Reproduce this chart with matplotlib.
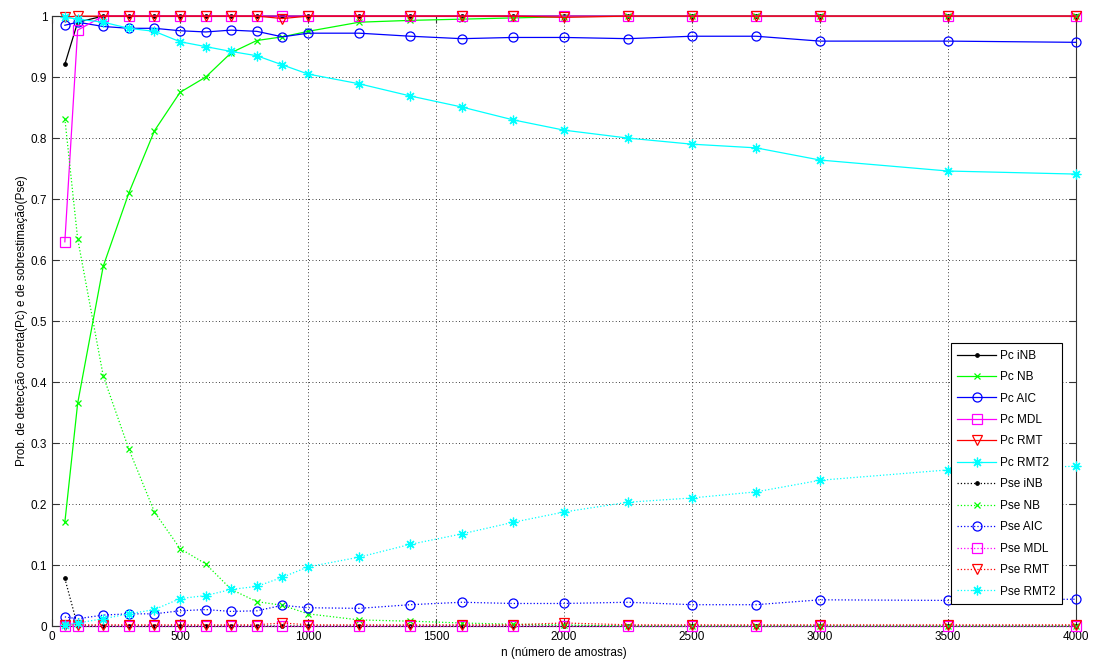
import matplotlib
matplotlib.use("Agg")
import matplotlib.pyplot as plt
import numpy as np

plt.rcParams['font.family'] = ['Liberation Sans', 'DejaVu Sans']

# numero de amostras
n = [50, 100, 200, 300, 400, 500, 600, 700, 800, 900, 1000,
     1200, 1400, 1600, 1800, 2000, 2250, 2500, 2750, 3000, 3500, 4000]

# probabilidade de deteccao correta
pc_inb = [0.921, 0.99, 1.0, 1.0, 1.0, 1.0, 1.0, 1.0, 1.0, 1.0, 1.0,
          1.0, 1.0, 1.0, 1.0, 1.0, 1.0, 1.0, 1.0, 1.0, 1.0, 1.0]
pc_nb = [0.17, 0.365, 0.59, 0.71, 0.812, 0.875, 0.90, 0.94, 0.96, 0.966, 0.975,
         0.99, 0.993, 0.995, 0.997, 0.999, 1.0, 1.0, 1.0, 1.0, 1.0, 1.0]
pc_aic = [0.985, 0.99, 0.983, 0.98, 0.98, 0.976, 0.974, 0.977, 0.975, 0.966, 0.972,
          0.972, 0.967, 0.963, 0.965, 0.965, 0.963, 0.967, 0.967, 0.959, 0.959, 0.957]
pc_mdl = [0.63, 0.977, 1.0, 1.0, 1.0, 1.0, 1.0, 1.0, 1.0, 1.0, 1.0,
          1.0, 1.0, 1.0, 1.0, 1.0, 1.0, 1.0, 1.0, 1.0, 1.0, 1.0]
pc_rmt = [0.998, 1.0, 1.0, 1.0, 1.0, 1.0, 1.0, 1.0, 1.0, 0.996, 1.0,
          1.0, 1.0, 1.0, 1.0, 0.998, 1.0, 1.0, 1.0, 1.0, 1.0, 1.0]
pc_rmt2 = [0.998, 0.995, 0.99, 0.98, 0.975, 0.958, 0.95, 0.942, 0.935, 0.92, 0.905,
           0.889, 0.869, 0.851, 0.83, 0.813, 0.80, 0.79, 0.784, 0.764, 0.746, 0.741]

# probabilidade de sobrestimacao
pse_inb = [0.078, 0.0, 0.0, 0.0, 0.0, 0.0, 0.0, 0.0, 0.0, 0.0, 0.0,
           0.0, 0.0, 0.0, 0.0, 0.0, 0.0, 0.0, 0.0, 0.0, 0.0, 0.0]
pse_nb = [0.832, 0.635, 0.41, 0.29, 0.187, 0.127, 0.102, 0.06, 0.04, 0.034, 0.02,
          0.01, 0.008, 0.005, 0.003, 0.002, 0.0, 0.0, 0.0, 0.0, 0.0, 0.0]
pse_aic = [0.015, 0.012, 0.018, 0.02, 0.02, 0.025, 0.027, 0.024, 0.025, 0.034, 0.03,
           0.029, 0.035, 0.039, 0.037, 0.037, 0.039, 0.035, 0.035, 0.043, 0.042, 0.044]
pse_mdl = [0.0, 0.0, 0.0, 0.0, 0.0, 0.0, 0.0, 0.0, 0.0, 0.0, 0.0,
           0.0, 0.0, 0.0, 0.0, 0.0, 0.0, 0.0, 0.0, 0.0, 0.0, 0.0]
pse_rmt = [0.002, 0.002, 0.002, 0.002, 0.002, 0.002, 0.002, 0.002, 0.002, 0.005, 0.002,
           0.002, 0.002, 0.002, 0.002, 0.005, 0.002, 0.002, 0.002, 0.002, 0.002, 0.002]
pse_rmt2 = [0.002, 0.005, 0.012, 0.02, 0.027, 0.045, 0.05, 0.06, 0.065, 0.08, 0.097,
            0.113, 0.134, 0.151, 0.17, 0.187, 0.203, 0.21, 0.22, 0.239, 0.256, 0.262]

# asterisco estilo matlab (8 bracos)
AST = (8, 2, 0)

series = [
    ('Pc iNB', pc_inb, '#000000', '.', '-'),
    ('Pc NB', pc_nb, '#00ff00', 'x', '-'),
    ('Pc AIC', pc_aic, '#0000ff', 'o', '-'),
    ('Pc MDL', pc_mdl, '#ff00ff', 's', '-'),
    ('Pc RMT', pc_rmt, '#ff0000', 'v', '-'),
    ('Pc RMT2', pc_rmt2, '#00ffff', AST, '-'),
    ('Pse iNB', pse_inb, '#000000', '.', ':'),
    ('Pse NB', pse_nb, '#00ff00', 'x', ':'),
    ('Pse AIC', pse_aic, '#0000ff', 'o', ':'),
    ('Pse MDL', pse_mdl, '#ff00ff', 's', ':'),
    ('Pse RMT', pse_rmt, '#ff0000', 'v', ':'),
    ('Pse RMT2', pse_rmt2, '#00ffff', AST, ':'),
]

sizes = {'.': 5, 'x': 4.5, 'o': 6.5, 's': 6.5, 'v': 7}

fig = plt.figure(figsize=(10.98, 6.71), dpi=100)
ax = fig.add_axes([0.0474, 0.067, 0.9326, 0.909])

for label, vals, col, mk, ls in series:
    ms = sizes.get(mk, 7) if isinstance(mk, str) else 7
    ax.plot(n, vals, color=col, marker=mk, linestyle=ls, linewidth=0.9,
            markersize=ms, markerfacecolor=col if mk == '.' else 'none',
            markeredgewidth=0.9, label=label, clip_on=False, zorder=3)

ax.set_xlim(0, 4000)
ax.set_ylim(0, 1)
ax.set_xticks(np.arange(0, 4001, 500))
ax.set_yticks(np.arange(0, 1.01, 0.1))
ax.set_yticklabels(['0', '0.1', '0.2', '0.3', '0.4', '0.5', '0.6', '0.7', '0.8', '0.9', '1'])
ax.grid(True, color='k', linestyle=(0, (1, 3)), linewidth=0.6)
ax.tick_params(direction='in', labelsize=8.5, length=5, colors='#333333', labelcolor='k',
               top=True, right=True)
for sp in ax.spines.values():
    sp.set_color('#333333')

ax.set_xlabel('n (número de amostras)', fontsize=8.5, labelpad=3)
ax.set_ylabel('Prob. de detecção correta(Pc) e de sobrestimação(Pse)', fontsize=8.5, labelpad=2)

leg = ax.legend(loc='lower right', bbox_to_anchor=(0.986, 0.036), fontsize=8.5,
                fancybox=False, edgecolor='k', framealpha=1, borderaxespad=0,
                labelspacing=0.8, handlelength=3.3, borderpad=0.55, handletextpad=0.3)
leg.get_frame().set_linewidth(0.8)
leg.set_zorder(5)

fig.savefig('out.png', dpi=100)
